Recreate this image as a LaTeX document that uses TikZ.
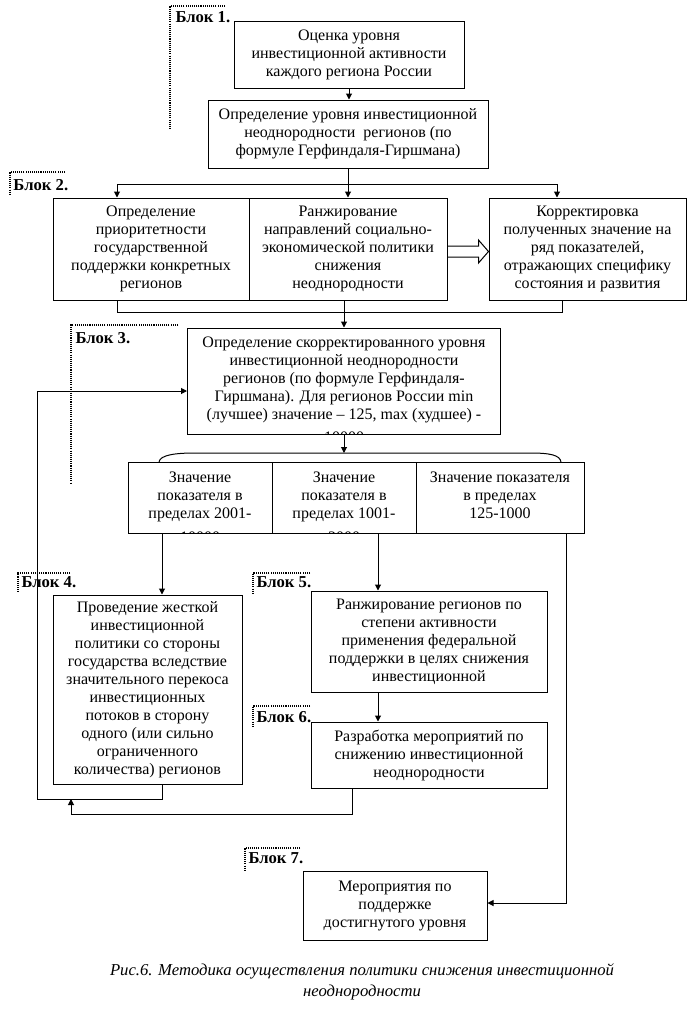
\documentclass[tikz,border=0pt]{standalone}
\usepackage{fontspec}
\setmainfont{Liberation Serif}
\usetikzlibrary{arrows.meta,calc}

\begin{document}
\begin{tikzpicture}[x=0.75pt, y=-0.75pt,
  font=\fontsize{12}{13.5}\selectfont,
  line width=0.75pt,
  box/.style={draw, align=center, inner sep=0pt},
  txt/.style={align=center, inner sep=0pt, anchor=north},
  ar/.style={-{Triangle[length=4.5pt,width=4.5pt]}},
  dots/.style={line width=1.1pt, dash pattern=on 0.8pt off 0.8pt},
  blk/.style={font=\fontsize{12.5}{14}\selectfont\bfseries, anchor=west, inner sep=0pt},
]
\useasboundingbox (0,0) rectangle (689,1011);
% block labels with dotted corners
\draw[dots] (225,6) -- (170,6) -- (170,130);
\node[blk] (k1) at (175,17) {Блок 1.};
\draw[dots] (65,172) -- (10,172) -- (10,195);
\node[blk] (k2) at (13,185) {Блок 2.};
\draw[dots] (178,325) -- (71,325) -- (71,483);
\node[blk] (k3) at (75,338) {Блок 3.};
\draw[dots] (70,573) -- (18,573) -- (18,593);
\node[blk] (k4) at (21,582) {Блок 4.};
\draw[dots] (310,573) -- (253,573) -- (253,593);
\node[blk] (k5) at (256,582) {Блок 5.};
\draw[dots] (310,706) -- (253,706) -- (253,727);
\node[blk] (k6) at (256,717) {Блок 6.};
\draw[dots] (300,848) -- (245,848) -- (245,870);
\node[blk] (k7) at (248,858) {Блок 7.};
% boxes (top to bottom)
\node[box, minimum width=172.5pt, minimum height=50.25pt] (O1) at (349,54.5) {Оценка уровня\\инвестиционной активности\\каждого региона России};
\node[box, minimum width=210pt, minimum height=51pt] (O2) at (348,134) {Определение уровня инвестиционной\\неоднородности \ регионов (по\\формуле Герфиндаля-Гиршмана)};
\node[box, minimum width=147pt, minimum height=76.5pt] (P1) at (151,249) {Определение\\приоритетности\\государственной\\поддержки конкретных\\регионов};
\node[box, minimum width=148.5pt, minimum height=76.5pt] (P2) at (348,249) {Ранжирование\\направлений социально-\\экономической политики\\снижения\\неоднородности};
\node[box, minimum width=147.75pt, minimum height=76.5pt] (K) at (587.5,249) {Корректировка\\полученных значение на\\ряд показателей,\\отражающих специфику\\состояния и развития};
\node[box, minimum width=234.75pt, minimum height=79.5pt] (S3) at (344,381) {};
\begin{scope}
  \clip (S3.north west) rectangle (S3.south east);
  \node[txt] (S3t) at ($(S3.north)+(0,9)$) {Определение скорректированного уровня\\инвестиционной неоднородности\\регионов (по формуле Герфиндаля-\\Гиршмана). Для регионов России min\\(лучшее) значение -- 125, max (худшее) -\\[3.5pt]10000};
\end{scope}
\node[box, minimum width=108pt, minimum height=53.25pt] (Z1) at (200,497.5) {};
\node[box, minimum width=108pt, minimum height=53.25pt] (Z2) at (344,497.5) {};
\node[box, minimum width=126pt, minimum height=53.25pt] (Z3) at (500,497.5) {};
\begin{scope}
  \clip (Z1.north west) rectangle (Z2.south east);
  \node[txt] (Z1t) at ($(Z1.north)+(0,10)$) {Значение\\показателя в\\пределах 2001-\\[4.5pt]10000};
  \node[txt] (Z2t) at ($(Z2.north)+(0,10)$) {Значение\\показателя в\\пределах 1001-\\[4.5pt]2000};
\end{scope}
\node[txt] (Z3t) at ($(Z3.north)+(0,10)$) {Значение показателя\\в пределах\\125-1000};
\node[box, minimum width=141.75pt, minimum height=141.75pt] (B4) at (147.5,689.5) {Проведение жесткой\\инвестиционной\\политики со стороны\\государства вследствие\\значительного перекоса\\инвестиционных\\потоков в сторону\\одного (или сильно\\ограниченного\\количества) регионов};
\node[box, minimum width=177pt, minimum height=75.75pt] (B5) at (429,641.5) {Ранжирование регионов по\\степени активности\\применения федеральной\\поддержки в целях снижения\\инвестиционной};
\node[box, minimum width=177pt, minimum height=49.5pt] (B6) at (429,755) {Разработка мероприятий по\\снижению инвестиционной\\неоднородности};
\node[box, minimum width=138pt, minimum height=51.75pt] (B7) at (395,905.5) {Мероприятия по\\поддержке\\достигнутого уровня};
% connectors
\draw[ar] (O1.south) -- (O1.south |- O2.north);
\coordinate (s1) at (117,184);
\coordinate (s2) at (557,184);
\draw (s1) -- (s2);
\draw[ar] (O2.south) -- (P2.north);
\draw[ar] (s1) -- (s1 |- P1.north);
\draw[ar] (s2) -- (s2 |- K.north);
\draw (P2.east) ++(0,-3) -- ++(31,0) -- ++(0,-6) -- ($(K.west)+(0,2.5)$) -- ($(P2.east)+(31,14)$) -- ++(0,-6) -- ($(P2.east)+(0,8)$);
\coordinate (m1) at (117,312);
\coordinate (m2) at (562,312);
\draw (m1 |- P1.south) -- (m1) -- (m2) -- (m2 |- K.south);
\draw[ar] (P2.south -| S3.north) -- (S3.north);
\coordinate (br) at (344,453);
\draw[ar] (S3.south) -- (br);
\draw (159,462) .. controls (160,455) and (175,453) .. (195,453) -- (530,453) .. controls (550,453) and (560,455) .. (561,462);
\coordinate (c4) at (162,0);
\draw[ar] (c4 |- Z1.south) -- (c4 |- B4.north);
\coordinate (c5) at (378,0);
\draw[ar] (c5 |- Z2.south) -- (c5 |- B5.north);
\draw[ar] (c5 |- B5.south) -- (c5 |- B6.north);
\coordinate (c7) at (566,903);
\draw[ar] (c7 |- Z3.south) -- (c7) -- (c7 -| B7.east);
% feedback loops
\coordinate (q1) at (162,799);
\coordinate (q2) at (37,799);
\coordinate (q3) at (37,391);
\draw[ar] (q1 |- B4.south) -- (q1) -- (q2) -- (q3) -- (q3 -| S3.west);
\coordinate (r1) at (352,814);
\coordinate (r2) at (71,814);
\draw[ar] (r1 |- B6.south) -- (r1) -- (r2) -- (r2 |- q1);
% caption
\node[font=\itshape\fontsize{12.5}{15.5}\selectfont, align=center] (cap) at (362,982) {Рис.6. Методика осуществления политики снижения инвестиционной\\неоднородности};
\end{tikzpicture}
\end{document}
